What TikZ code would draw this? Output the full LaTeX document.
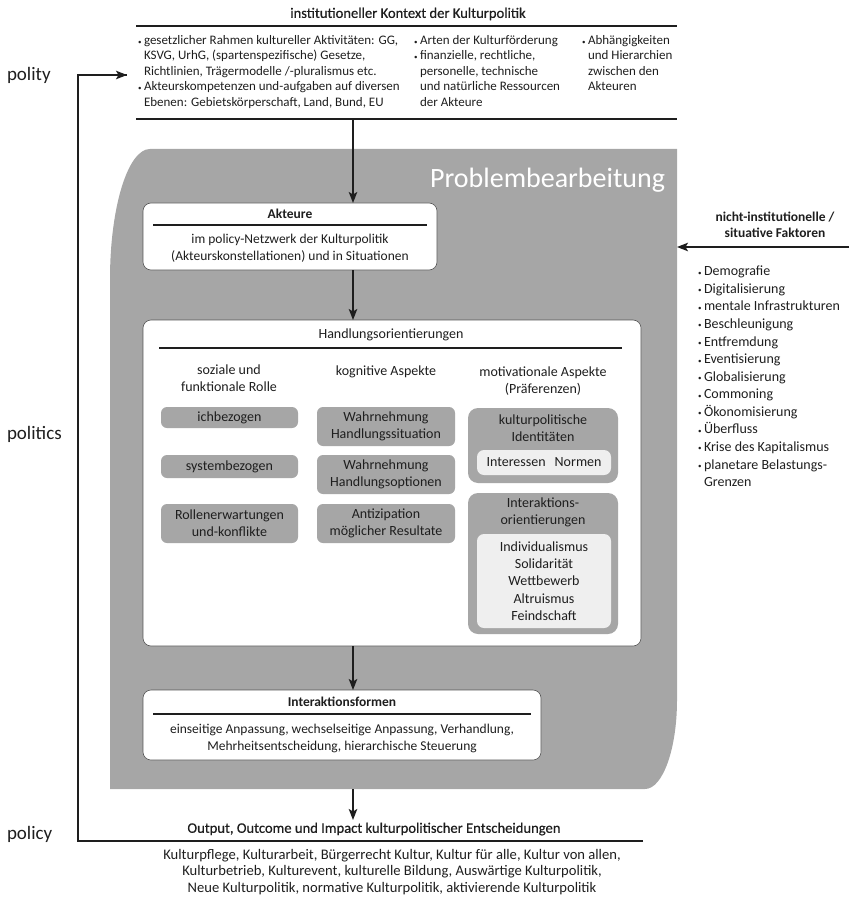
\documentclass[tikz,border=0pt]{standalone}
\usepackage{fontspec}
\setmainfont{Carlito}
\newfontfamily\semib[FakeBold=0.5]{Carlito}
\usetikzlibrary{arrows.meta,calc}
\definecolor{pgrey}{HTML}{A6A6A6}
\definecolor{plight}{HTML}{EFEFEF}
\definecolor{ink}{HTML}{1E1E1E}
\newcommand{\fs}[2]{\fontsize{#1}{#2}\selectfont}
\newcommand{\bul}{\makebox[6pt][l]{\raisebox{0.5pt}{\fontsize{7}{7}\selectfont •}}}
\newcommand{\ind}{\hspace*{6pt}}
\begin{document}
\begin{tikzpicture}[x=1pt,y=-1pt,
  every node/.style={inner sep=0pt, outer sep=0pt, text=ink},
  arr/.style={draw=ink, line width=1.5pt, -{Stealth[length=11pt,width=8.5pt,inset=2.5pt]}},
  rule/.style={draw=ink, line width=1.4pt},
  wbox/.style={draw=ink!75, line width=0.6pt, fill=white, rounded corners=8pt, anchor=north west},
  gbox/.style={fill=pgrey, rounded corners=6pt, anchor=north west},
  lbox/.style={fill=plight, rounded corners=7pt, anchor=north west},
  txt/.style={font=\fs{14}{17.3}, align=center},
  btitle/.style={font=\bfseries\fs{13.5}{16}, align=center},
  rtitle/.style={font=\semib\fs{14.6}{16}, align=center},
  side/.style={font=\fs{19}{22}, anchor=west},
]
\useasboundingbox (0,0) rectangle (849,901);

% side labels
\node[side] (polity) at (7,75) {polity};
\node[side] (politics) at (7,434) {politics};
\node[side] (policy) at (7,834) {policy};

% institutional context
\node[rtitle] (ctxtitle) at (408,14) {institutioneller Kontext der Kulturpolitik};
\coordinate (ctxL) at (136,26); \coordinate (ctxR) at (677,26);
\coordinate (ctxBL) at (136,119); \coordinate (ctxBR) at (677,119);
\draw[rule] (ctxL) -- (ctxR);
\draw[rule] (ctxBL) -- (ctxBR);
\node[font=\fs{13}{15.4}, align=left, anchor=north west] (ctx1) at (138,35.5) {%
\bul gesetzlicher Rahmen kultureller Aktivitäten: GG,\\
\ind KSVG, UrhG, (spartenspezifische) Gesetze,\\
\ind Richtlinien, Trägermodelle /-pluralismus etc.\\
\bul Akteurskompetenzen und-aufgaben auf diversen\\
\ind Ebenen: Gebietskörperschaft, Land, Bund, EU};
\node[font=\fs{13}{15.4}, align=left, anchor=north west] (ctx2) at (414,35.5) {%
\bul Arten der Kulturförderung\\
\bul finanzielle, rechtliche,\\
\ind personelle, technische\\
\ind und natürliche Ressourcen\\
\ind der Akteure};
\node[font=\fs{13}{15.4}, align=left, anchor=north west] (ctx3) at (582,35.5) {%
\bul Abhängigkeiten\\
\ind und Hierarchien\\
\ind zwischen den\\
\ind Akteuren};

% grey area
\fill[pgrey] (150,149) -- (677,149) -- (677,700)
  .. controls (677,749) and (662.7,789) .. (645,789)
  -- (110,789) -- (110,279)
  .. controls (110,207.2) and (127.9,149) .. (150,149) -- cycle;
\coordinate (greyR) at (677,247);
\node[font=\fs{28}{30}, text=white, anchor=base east] (pb) at (665,188) {Problembearbeitung};

% Akteure
\node[wbox, minimum width=294, minimum height=67] (akteure) at (143,203) {};
\node[btitle] (akt) at (290,214) {Akteure};
\draw[line width=1.2pt, draw=ink] (153,225) -- (427,225);
\node[font=\fs{13.5}{16.5}, align=center] (akttxt) at (290,248) {im policy-Netzwerk der Kulturpolitik\\(Akteurskonstellationen) und in Situationen};

% Handlungsorientierungen
\node[wbox, minimum width=498, minimum height=326] (hand) at (143,320) {};
\node[txt] (handt) at (391,335) {Handlungsorientierungen};
\draw[line width=1.2pt, draw=ink] (159,348) -- (622,348);
\node[txt] (h1) at (229,378) {soziale und\\funktionale Rolle};
\node[txt] (h2) at (386,372) {kognitive Aspekte};
\node[txt] (h3) at (543,381) {motivationale Aspekte\\(Präferenzen)};

\node[gbox, minimum width=137, minimum height=21] (b11) at (161,407) {};
\node[txt] at (b11.center) {ichbezogen};
\node[gbox, minimum width=137, minimum height=23] (b12) at (161,455) {};
\node[txt] at (b12.center) {systembezogen};
\node[gbox, minimum width=137, minimum height=39] (b13) at (161,504) {};
\node[txt] at (b13.center) {Rollenerwartungen\\und-konflikte};

\node[gbox, minimum width=138, minimum height=39] (b21) at (317,407) {};
\node[txt] at (b21.center) {Wahrnehmung\\Handlungssituation};
\node[gbox, minimum width=138, minimum height=39] (b22) at (317,455) {};
\node[txt] at (b22.center) {Wahrnehmung\\Handlungsoptionen};
\node[gbox, minimum width=138, minimum height=39] (b23) at (317,504) {};
\node[txt] at (b23.center) {Antizipation\\möglicher Resultate};

\node[gbox, rounded corners=10pt, minimum width=150, minimum height=75] (b31) at (468,408) {};
\node[txt] (b31t) at (543,428.5) {kulturpolitische\\Identitäten};
\node[lbox, minimum width=134, minimum height=25] (b31i) at (477,450) {};
\node[txt] at (b31i.center) {Interessen\hspace{9pt}Normen};

\node[gbox, rounded corners=10pt, minimum width=150, minimum height=141] (b32) at (468,493) {};
\node[txt] (b32t) at (543,512.5) {Interaktions-\\orientierungen};
\node[lbox, minimum width=134, minimum height=94] (b32i) at (477,534) {};
\node[txt] at (b32i.center) {Individualismus\\Solidarität\\Wettbewerb\\Altruismus\\Feindschaft};

% Interaktionsformen
\node[wbox, minimum width=398, minimum height=70] (iform) at (143,690) {};
\node[btitle] (ift) at (342,702) {Interaktionsformen};
\draw[line width=1.2pt, draw=ink] (153,714) -- (531,714);
\node[font=\fs{13.5}{17}, align=center] (iftxt) at (342,738) {einseitige Anpassung, wechselseitige Anpassung, Verhandlung,\\Mehrheitsentscheidung, hierarchische Steuerung};

% output
\node[rtitle] (out) at (374,829) {Output, Outcome und Impact kulturpolitischer Entscheidungen};
\coordinate (outL) at (78,841); \coordinate (outR) at (643,841);
\node[font=\fs{14.6}{16.2}, align=center, anchor=north] (outtxt) at (392,849.5) {Kulturpflege, Kulturarbeit, Bürgerrecht Kultur, Kultur für alle, Kultur von allen,\\Kulturbetrieb, Kulturevent, kulturelle Bildung, Auswärtige Kulturpolitik,\\Neue Kulturpolitik, normative Kulturpolitik, aktivierende Kulturpolitik};

% right side
\node[btitle] (nif) at (775,225) {nicht-institutionelle /\\situative Faktoren};
\coordinate (rightS) at (849,247);
\node[font=\fs{14}{17.58}, align=left, anchor=north west] (list) at (698,266) {%
\bul Demografie\\
\bul Digitalisierung\\
\bul mentale Infrastrukturen\\
\bul Beschleunigung\\
\bul Entfremdung\\
\bul Eventisierung\\
\bul Globalisierung\\
\bul Commoning\\
\bul Ökonomisierung\\
\bul Überfluss\\
\bul Krise des Kapitalismus\\
\bul planetare Belastungs-\\
\ind Grenzen};

% connectors
\coordinate (a0) at (353,119);
\draw[arr] (a0) -- (a0 |- akteure.north);
\coordinate (a1) at (a0 |- akteure.south);
\draw[arr] (a1) -- (a1 |- hand.north);
\coordinate (a2) at (a0 |- hand.south);
\draw[arr] (a2) -- (a2 |- iform.north);
\coordinate (a3) at (353,789);
\coordinate (a3e) at (353,820);
\draw[arr] (a3) -- (a3e);
\coordinate (loopT) at (78,75);
\coordinate (ctxin) at (127,75);
\draw[rule, line join=miter] (outR) -- (outL) -- (loopT) -- (ctxin);
\draw[arr] (loopT) -- (ctxin);
\draw[arr] (rightS) -- (greyR);
\end{tikzpicture}
\end{document}
